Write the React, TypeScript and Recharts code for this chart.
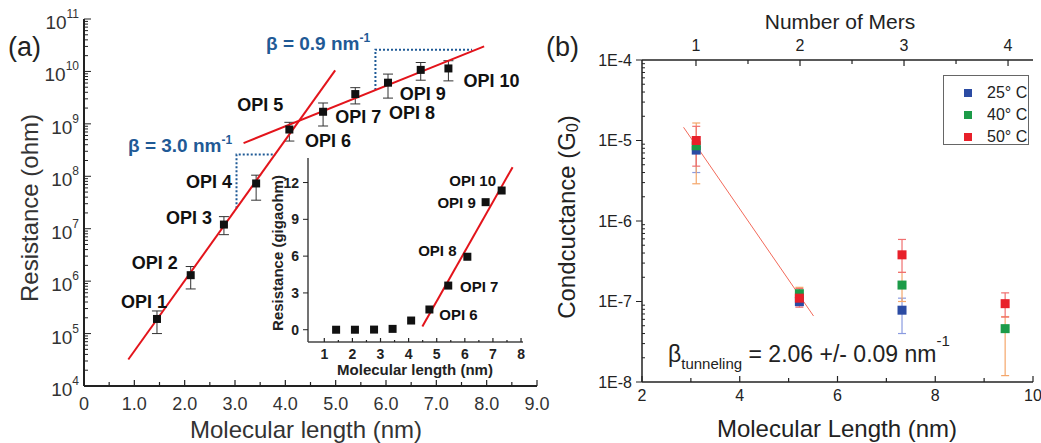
import React from 'react';
import { ComposedChart, Scatter, Line, XAxis, YAxis, ErrorBar, Legend } from 'recharts';

const FONT = '"Liberation Sans", Arial, Helvetica, sans-serif';
const INK = '#222';
const BLUE_NOTE = '#1F5A96';

// ---------- panel (a): resistance of OPI wires ----------
const opiNames = ['OPI 1', 'OPI 2', 'OPI 3', 'OPI 4', 'OPI 5', 'OPI 6', 'OPI 7', 'OPI 8', 'OPI 9', 'OPI 10'];
const opiLength = [1.45, 2.12, 2.78, 3.42, 4.08, 4.75, 5.39, 6.04, 6.69, 7.24];
const opiResistance = [1.9e5, 1.3e6, 1.2e7, 7.3e7, 7.8e8, 1.7e9, 3.7e9, 6.1e9, 1.07e10, 1.14e10];
const opiLow = [1.0e5, 7.1e5, 7.7e6, 3.5e7, 4.7e8, 9.1e8, 2.4e9, 3.1e9, 6.8e9, 6.6e9];
const opiHigh = [2.7e5, 1.9e6, 1.7e7, 1.05e8, 1.07e9, 2.5e9, 4.9e9, 8.9e9, 1.48e10, 1.6e10];

// fitted lines (end points)
const fitSteepLength = [0.88, 4.99];
const fitSteepResistance = [3.2e4, 1.05e10];
const fitFlatLength = [3.17, 7.95];
const fitFlatResistance = [4.3e8, 3.0e10];

// dotted slope guides
const guideSteepLength = [3.03, 3.03, 3.8];
const guideSteepResistance = [2.45e7, 2.6e8, 2.6e8];
const guideFlatLength = [5.79, 5.79, 7.71];
const guideFlatResistance = [4.4e9, 2.6e10, 2.6e10];

// inset (linear, gigaohm)
const insetLength = [1.42, 2.09, 2.77, 3.43, 4.09, 4.74, 5.41, 6.09, 6.74, 7.31];
const insetGigaohm = [0.0002, 0.001, 0.012, 0.07, 0.75, 1.65, 3.6, 5.95, 10.4, 11.35];
const insetFitLength = [4.49, 7.7];
const insetFitGigaohm = [0.27, 13.25];

// ---------- panel (b): conductance vs temperature ----------
const merCount = [1, 2, 3, 4];

const len25 = [3.11, 5.22, 7.32];
const g25 = [7.6e-6, 1.0e-7, 7.8e-8];
const g25Low = [4.0e-6, 8.8e-8, 4.0e-8];
const g25High = [1.1e-5, 1.25e-7, 1.1e-7];

const len40 = [3.11, 5.22, 7.32, 9.43];
const g40 = [8.6e-6, 1.25e-7, 1.6e-7, 4.6e-8];
const g40Low = [2.9e-6, 9.5e-8, 1.0e-7, 1.2e-8];
const g40High = [1.65e-5, 1.5e-7, 2.3e-7, 6.5e-8];

const len50 = [3.11, 5.22, 7.32, 9.43];
const g50 = [1.0e-5, 1.1e-7, 3.8e-7, 9.4e-8];
const g50Low = [4.8e-6, 8.5e-8, 2.3e-7, 6.4e-8];
const g50High = [1.5e-5, 1.45e-7, 5.9e-7, 1.28e-7];

const tunnelFitLength = [2.85, 5.51];
const tunnelFitG = [1.46e-5, 6.6e-8];

// label placement (offset of label centre from its point, px)
const opiLabelOffset: Record<string, [number, number]> = {
  'OPI 1': [-13, -17],
  'OPI 2': [-36, -12],
  'OPI 3': [-35, -7],
  'OPI 4': [-47, -1],
  'OPI 5': [-29, -25],
  'OPI 6': [5, 29],
  'OPI 7': [3, 23],
  'OPI 8': [24, 30],
  'OPI 9': [2, 24],
  'OPI 10': [43, 13],
};
const insetLabelOffset: Record<string, [number, number]> = {
  'OPI 6': [29, 5],
  'OPI 7': [31, 1],
  'OPI 8': [-30, -6],
  'OPI 9': [-29, 0],
  'OPI 10': [-29, -10],
};

const withErr = (xs: number[], ys: number[], lo: number[], hi: number[], names?: string[]) =>
  xs.map((x, i) => ({ x, y: ys[i], err: [ys[i] - lo[i], hi[i] - ys[i]], name: names ? names[i] : '' }));
const pts = (xs: number[], ys: number[], names?: string[]) =>
  xs.map((x, i) => ({ x, y: ys[i], name: names ? names[i] : '' }));

const opiData = withErr(opiLength, opiResistance, opiLow, opiHigh, opiNames);
const insetData = pts(insetLength, insetGigaohm, opiNames);

function logTicks(from: number, to: number) {
  const t: number[] = [];
  for (let e = from; e < to; e++) {
    for (let m = 1; m < 10; m++) t.push(+(m * Math.pow(10, e)).toPrecision(3));
  }
  t.push(+Math.pow(10, to).toPrecision(3));
  return t;
}
const isDecade = (v: number) => Math.abs(Math.log10(v) - Math.round(Math.log10(v))) < 1e-6;
const isInt = (v: number) => Math.abs(v - Math.round(v)) < 1e-9;

type TickSpec = {
  side: 'left' | 'bottom' | 'top';
  len: (v: number) => number; // positive = outward
  gap: number;
  dy?: number;
  text: (v: number) => React.ReactNode;
  font: React.SVGProps<SVGTextElement>;
};

function makeTick(spec: TickSpec) {
  return function AxisTick(props: any) {
    const { x, y, payload } = props;
    const v = payload.value as number;
    const len = spec.len(v);
    const label = spec.text(v);
    const dy = spec.dy || 0;
    if (spec.side === 'left') {
      return (
        <g>
          <line x1={x} x2={x - len} y1={y} y2={y} stroke={INK} strokeWidth={1} />
          {label != null && (
            <text x={x - spec.gap} y={y + dy} textAnchor="end" dominantBaseline="central" fontFamily={FONT} fill={INK} {...spec.font}>
              {label}
            </text>
          )}
        </g>
      );
    }
    if (spec.side === 'top') {
      return (
        <g>
          <line x1={x} x2={x} y1={y} y2={y - len} stroke={INK} strokeWidth={1.2} />
          {label != null && (
            <text x={x} y={y - spec.gap + dy} textAnchor="middle" dominantBaseline="central" fontFamily={FONT} fill={INK} {...spec.font}>
              {label}
            </text>
          )}
        </g>
      );
    }
    return (
      <g>
        <line x1={x} x2={x} y1={y} y2={y + len} stroke={INK} strokeWidth={1.2} />
        {label != null && (
          <text x={x} y={y + spec.gap + dy} textAnchor="middle" dominantBaseline="central" fontFamily={FONT} fill={INK} {...spec.font}>
            {label}
          </text>
        )}
      </g>
    );
  };
}

const aXTick = makeTick({
  side: 'bottom',
  len: (v) => (isInt(v) ? -6 : -4),
  gap: 18,
  text: (v) => (isInt(v) ? (v === 0 ? '0' : v.toFixed(1)) : null),
  font: { fontSize: 18, fill: '#333' },
});
const aYTick = makeTick({
  side: 'left',
  len: (v) => (isDecade(v) ? -7 : -4),
  gap: 5,
  dy: 3,
  text: (v) =>
    isDecade(v) ? (
      <>
        <tspan>10</tspan>
        <tspan dy={-8} fontSize={12}>
          {Math.round(Math.log10(v))}
        </tspan>
      </>
    ) : null,
  font: { fontSize: 19, fill: '#333' },
});
const insetXTick = makeTick({
  side: 'bottom',
  len: (v) => (isInt(v) ? -4 : -2),
  gap: 12,
  text: (v) => (isInt(v) ? String(v) : null),
  font: { fontSize: 14, fontWeight: 'bold' },
});
const insetYTick = makeTick({
  side: 'left',
  len: () => 5,
  gap: 9,
  text: (v) => String(v),
  font: { fontSize: 14, fontWeight: 'bold' },
});
const bXTick = makeTick({
  side: 'bottom',
  len: (v) => (v % 2 === 0 ? -6 : -4),
  gap: 13,
  text: (v) => (v % 2 === 0 ? String(v) : null),
  font: { fontSize: 16 },
});
const bMersTick = makeTick({
  side: 'top',
  len: (v) => (isInt(v) ? -6 : -4),
  gap: 15,
  text: (v) => (isInt(v) ? String(v) : null),
  font: { fontSize: 16 },
});
const bYTick = makeTick({
  side: 'left',
  len: (v) => (isDecade(v) ? 6 : -3),
  gap: 10,
  text: (v) => (isDecade(v) ? `1E${Math.round(Math.log10(v))}` : null),
  font: { fontSize: 16 },
});

function OpiPoint(props: any) {
  const { cx, cy, payload } = props;
  const off = opiLabelOffset[payload.name];
  return (
    <g>
      <rect x={cx - 4} y={cy - 4} width={8} height={8} fill="#111" />
      {off && (
        <text x={cx + off[0]} y={cy + off[1]} textAnchor="middle" dominantBaseline="central" fontFamily={FONT} fontWeight="bold" fontSize={18} fill="#111">
          {payload.name}
        </text>
      )}
    </g>
  );
}

function InsetPoint(props: any) {
  const { cx, cy, payload } = props;
  const off = insetLabelOffset[payload.name];
  return (
    <g>
      <rect x={cx - 4} y={cy - 4} width={8} height={8} fill="#111" />
      {off && (
        <text x={cx + off[0]} y={cy + off[1]} textAnchor="middle" dominantBaseline="central" fontFamily={FONT} fontWeight="bold" fontSize={15} fill="#111">
          {payload.name}
        </text>
      )}
    </g>
  );
}

const square = (size: number, color: string) =>
  function Sq(props: any) {
    return <rect x={props.cx - size / 2} y={props.cy - size / 2} width={size} height={size} fill={color} />;
  };
const NoMark = () => <g />;

function TempLegend(props: any) {
  const items = ((props.payload || []) as any[]).filter((it) => it.type !== 'none');
  return (
    <div
      style={{
        width: 86,
        height: 70,
        boxSizing: 'border-box',
        border: '1.5px solid #666',
        background: '#fff',
        fontFamily: FONT,
        fontSize: 16,
        color: INK,
        position: 'relative',
        whiteSpace: 'nowrap',
      }}
    >
      {items.map((it, i) => (
        <div key={it.value} style={{ position: 'absolute', left: 20, top: 8 + i * 22, height: 18, display: 'flex', alignItems: 'center' }}>
          <span style={{ display: 'inline-block', width: 8, height: 8, background: it.color, marginRight: 15, flex: 'none' }} />
          <span>{it.value}</span>
        </div>
      ))}
    </div>
  );
}

const frameLine = { stroke: INK, strokeWidth: 2 };

export default function App() {
  return (
    <div style={{ position: 'absolute', left: 0, top: 0, width: 1041, height: 443, background: '#fff', fontFamily: FONT }}>
      {/* panel (a) */}
      <div style={{ position: 'absolute', left: 0, top: 0 }}>
        <ComposedChart width={562} height={443} margin={{ top: 19, right: 25, bottom: 0, left: 0 }}>
          <XAxis
            dataKey="x"
            type="number"
            domain={[0, 9]}
            allowDataOverflow
            ticks={[0, 0.5, 1, 1.5, 2, 2.5, 3, 3.5, 4, 4.5, 5, 5.5, 6, 6.5, 7, 7.5, 8, 8.5, 9]}
            interval={0}
            height={57}
            tickSize={0}
            tickMargin={0}
            tickLine={false}
            axisLine={frameLine}
            tick={aXTick}
          />
          <XAxis xAxisId="top" orientation="top" type="number" domain={[0, 9]} allowDataOverflow height={0} tick={false} tickLine={false} axisLine={frameLine} />
          <YAxis
            dataKey="y"
            type="number"
            scale="log"
            domain={[1e4, 1e11]}
            allowDataOverflow
            ticks={logTicks(4, 11)}
            interval={0}
            width={84}
            tickSize={0}
            tickMargin={0}
            tickLine={false}
            axisLine={frameLine}
            tick={aYTick}
          />
          <YAxis yAxisId="right" orientation="right" type="number" domain={[0, 1]} allowDataOverflow width={0} tick={false} tickLine={false} axisLine={frameLine} />
          <Line data={pts(guideSteepLength, guideSteepResistance)} dataKey="y" stroke={BLUE_NOTE} strokeWidth={2} strokeDasharray="2 2" dot={false} activeDot={false} isAnimationActive={false} />
          <Line data={pts(guideFlatLength, guideFlatResistance)} dataKey="y" stroke={BLUE_NOTE} strokeWidth={2} strokeDasharray="2 2" dot={false} activeDot={false} isAnimationActive={false} />
          <Scatter data={opiData} shape={OpiPoint} isAnimationActive={false}>
            <ErrorBar dataKey="err" direction="y" width={5} stroke="#333" strokeWidth={1} isAnimationActive={false} />
          </Scatter>
          <Line data={pts(fitSteepLength, fitSteepResistance)} dataKey="y" stroke="#E3141B" strokeWidth={2} dot={false} activeDot={false} isAnimationActive={false} />
          <Line data={pts(fitFlatLength, fitFlatResistance)} dataKey="y" stroke="#E3141B" strokeWidth={2} dot={false} activeDot={false} isAnimationActive={false} />
        </ComposedChart>
      </div>

      {/* inset of panel (a) */}
      <div style={{ position: 'absolute', left: 250, top: 150 }}>
        <ComposedChart width={280} height={235} margin={{ top: 8, right: 7, bottom: 0, left: 0 }}>
          <XAxis
            dataKey="x"
            type="number"
            domain={[0.42, 8.07]}
            allowDataOverflow
            ticks={[1, 1.5, 2, 2.5, 3, 3.5, 4, 4.5, 5, 5.5, 6, 6.5, 7, 7.5, 8]}
            interval={0}
            height={43}
            tickSize={0}
            tickMargin={0}
            tickLine={false}
            axisLine={{ stroke: '#444', strokeWidth: 1.5 }}
            tick={insetXTick}
          />
          <XAxis xAxisId="top" orientation="top" type="number" domain={[0, 1]} allowDataOverflow height={0} tick={false} tickLine={false} axisLine={{ stroke: '#444', strokeWidth: 1.5 }} />
          <YAxis
            dataKey="y"
            type="number"
            domain={[-1, 14]}
            allowDataOverflow
            ticks={[0, 3, 6, 9, 12]}
            interval={0}
            width={58}
            tickSize={0}
            tickMargin={0}
            tickLine={false}
            axisLine={{ stroke: '#444', strokeWidth: 1.5 }}
            tick={insetYTick}
          />
          <YAxis yAxisId="right" orientation="right" type="number" domain={[0, 1]} allowDataOverflow width={0} tick={false} tickLine={false} axisLine={{ stroke: '#444', strokeWidth: 1.5 }} />
          <Scatter data={insetData} shape={InsetPoint} isAnimationActive={false} />
          <Line data={pts(insetFitLength, insetFitGigaohm)} dataKey="y" stroke="#E3141B" strokeWidth={2} dot={false} activeDot={false} isAnimationActive={false} />
        </ComposedChart>
      </div>

      {/* panel (b) */}
      <div style={{ position: 'absolute', left: 545, top: 0 }}>
        <ComposedChart width={496} height={443} margin={{ top: 0, right: 8, bottom: 0, left: 0 }}>
          <XAxis
            dataKey="x"
            type="number"
            domain={[2, 10]}
            allowDataOverflow
            ticks={[2, 3, 4, 5, 6, 7, 8, 9, 10]}
            interval={0}
            height={61}
            tickSize={0}
            tickMargin={0}
            tickLine={false}
            axisLine={{ stroke: INK, strokeWidth: 1.5 }}
            tick={bXTick}
          />
          <XAxis
            xAxisId="mers"
            dataKey="x"
            orientation="top"
            type="number"
            domain={[0.481, 4.24]}
            allowDataOverflow
            ticks={[1, 1.5, 2, 2.5, 3, 3.5, 4]}
            interval={0}
            height={60}
            tickSize={0}
            tickMargin={0}
            tickLine={false}
            axisLine={{ stroke: INK, strokeWidth: 1.5 }}
            tick={bMersTick}
          />
          <YAxis
            dataKey="y"
            type="number"
            scale="log"
            domain={[1e-8, 1e-4]}
            allowDataOverflow
            ticks={logTicks(-8, -4)}
            interval={0}
            width={97}
            tickSize={0}
            tickMargin={0}
            tickLine={false}
            axisLine={{ stroke: INK, strokeWidth: 1.5 }}
            tick={bYTick}
          />
          {/* number of mers of each oligomer, only carries the top axis */}
          <Scatter xAxisId="mers" data={pts(merCount, g40)} shape={NoMark} legendType="none" isAnimationActive={false} />
          <Line data={pts(tunnelFitLength, tunnelFitG)} dataKey="y" stroke="#F26A5A" strokeWidth={1} dot={false} activeDot={false} legendType="none" isAnimationActive={false} />
          <Scatter name="25° C" data={withErr(len25, g25, g25Low, g25High)} fill="#2B4BA3" shape={square(9, '#2B4BA3')} isAnimationActive={false}>
            <ErrorBar dataKey="err" direction="y" width={4} stroke="#8A9BE0" strokeWidth={1.2} isAnimationActive={false} />
          </Scatter>
          <Scatter name="40° C" data={withErr(len40, g40, g40Low, g40High)} fill="#1C9B48" shape={square(9, '#1C9B48')} isAnimationActive={false}>
            <ErrorBar dataKey="err" direction="y" width={4} stroke="#F4A66A" strokeWidth={1.2} isAnimationActive={false} />
          </Scatter>
          <Scatter name="50° C" data={withErr(len50, g50, g50Low, g50High)} fill="#E8202A" shape={square(9, '#E8202A')} isAnimationActive={false}>
            <ErrorBar dataKey="err" direction="y" width={4} stroke="#F07070" strokeWidth={1.2} isAnimationActive={false} />
          </Scatter>
          <Legend
            layout="horizontal"
            verticalAlign="middle"
            align="center"
            wrapperStyle={{ left: 398, top: 75, width: 86, height: 70 }}
            content={TempLegend}
          />
        </ComposedChart>
      </div>

      {/* titles and annotations */}
      <svg width={1041} height={443} style={{ position: 'absolute', left: 0, top: 0, pointerEvents: 'none' }} fontFamily={FONT}>
        <text x={8} y={56} fontSize={27} fill={INK}>(a)</text>
        <text x={546} y={56} fontSize={27} fill={INK}>(b)</text>

        <text transform="translate(29,208) rotate(-90)" textAnchor="middle" dominantBaseline="central" fontSize={24} fill="#333">
          Resistance (ohm)
        </text>
        <text x={306} y={438} textAnchor="middle" fontSize={24} fill="#333">
          Molecular length (nm)
        </text>

        <text x={128} y={152} fontSize={19} fontWeight="bold" fill={BLUE_NOTE}>
          β = 3.0 nm<tspan dy={-8} fontSize={12}>-1</tspan>
        </text>
        <text x={266} y={50} fontSize={19} fontWeight="bold" fill={BLUE_NOTE}>
          β = 0.9 nm<tspan dy={-8} fontSize={12}>-1</tspan>
        </text>

        <text transform="translate(277,253) rotate(-90)" textAnchor="middle" dominantBaseline="central" fontSize={15} fontWeight="bold" fill={INK}>
          Resistance (gigaohm)
        </text>
        <text x={415} y={369} textAnchor="middle" dominantBaseline="central" fontSize={15} fontWeight="bold" fill={INK}>
          Molecular length (nm)
        </text>

        <text transform="translate(566,217) rotate(-90)" textAnchor="middle" dominantBaseline="central" fontSize={24} fill={INK}>
          Condcuctance (G<tspan dy={6} fontSize={16}>0</tspan><tspan dy={-6}>)</tspan>
        </text>
        <text x={837} y={437} textAnchor="middle" fontSize={24} fill={INK}>
          Molecular Length (nm)
        </text>
        <text x={840} y={29} textAnchor="middle" fontSize={21} fill={INK}>
          Number of Mers
        </text>
        <text x={668} y={362} fontSize={23} fill={INK}>
          β<tspan dy={7} fontSize={15}>tunneling</tspan>
          <tspan dy={-7}> = 2.06 +/- 0.09 nm</tspan>
          <tspan dy={-16} fontSize={15}>-1</tspan>
        </text>
      </svg>
    </div>
  );
}
